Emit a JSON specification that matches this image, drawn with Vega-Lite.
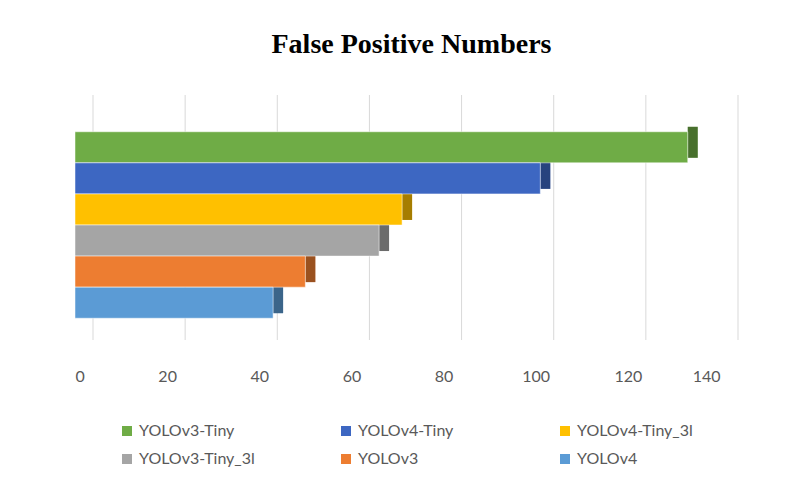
{
  "$schema": "https://vega.github.io/schema/vega-lite/v6.json",
  "width": 645,
  "height": 230,
  "autosize": {"type": "none"},
  "padding": {"left": 75, "top": 110, "right": 78, "bottom": 143},
  "background": "white",
  "title": {
    "text": "False Positive Numbers",
    "font": "Liberation Serif",
    "fontSize": 28,
    "fontWeight": "bold",
    "color": "#000000",
    "anchor": "middle",
    "dx": 14,
    "offset": 36
  },
  "datasets": {
    "bars": [
      {"model": "YOLOv3-Tiny", "fp": 133},
      {"model": "YOLOv4-Tiny", "fp": 101},
      {"model": "YOLOv4-Tiny_3l", "fp": 71},
      {"model": "YOLOv3-Tiny_3l", "fp": 66},
      {"model": "YOLOv3", "fp": 50},
      {"model": "YOLOv4", "fp": 43}
    ],
    "grid": [
      {"fp": 0}, {"fp": 20}, {"fp": 40}, {"fp": 60}, {"fp": 80}, {"fp": 100}, {"fp": 120}, {"fp": 140}
    ]
  },
  "layer": [
    {
      "data": {"name": "grid"},
      "mark": {"type": "rule", "color": "#d9d9d9", "strokeWidth": 1, "xOffset": 18, "yOffset": -15, "y2Offset": -10},
      "encoding": {
        "x": {
          "field": "fp",
          "type": "quantitative",
          "scale": {"domain": [0, 140], "nice": false},
          "axis": {
            "title": null,
            "values": [0, 20, 40, 60, 80, 100, 120, 140],
            "domain": false,
            "ticks": false,
            "grid": false,
            "labelFont": "Lato",
            "labelFontSize": 16,
            "labelColor": "#595959",
            "labelPadding": 28,
            "labelDx": -7
          }
        }
      }
    },
    {
      "data": {"name": "bars"},
      "mark": {"type": "tick", "orient": "vertical", "thickness": 10, "size": 31, "xOffset": 5, "yOffset": -5, "opacity": 1},
      "encoding": {
        "y": {
          "field": "model",
          "type": "nominal",
          "sort": ["YOLOv3-Tiny", "YOLOv4-Tiny", "YOLOv4-Tiny_3l", "YOLOv3-Tiny_3l", "YOLOv3", "YOLOv4"],
          "scale": {"paddingInner": 0, "paddingOuter": 0.7},
          "axis": null
        },
        "x": {"field": "fp", "type": "quantitative"},
        "color": {"field": "model", "type": "nominal"}
      }
    },
    {
      "data": {"name": "bars"},
      "mark": {"type": "tick", "orient": "vertical", "thickness": 10, "size": 31, "xOffset": 5, "yOffset": -5, "color": "black", "opacity": 0.35},
      "encoding": {
        "y": {"field": "model", "type": "nominal", "sort": ["YOLOv3-Tiny", "YOLOv4-Tiny", "YOLOv4-Tiny_3l", "YOLOv3-Tiny_3l", "YOLOv3", "YOLOv4"]},
        "x": {"field": "fp", "type": "quantitative"}
      }
    },
    {
      "data": {"name": "bars"},
      "mark": {"type": "bar", "stroke": "white", "strokeWidth": 0.5, "opacity": 1},
      "encoding": {
        "y": {"field": "model", "type": "nominal", "sort": ["YOLOv3-Tiny", "YOLOv4-Tiny", "YOLOv4-Tiny_3l", "YOLOv3-Tiny_3l", "YOLOv3", "YOLOv4"]},
        "x": {"field": "fp", "type": "quantitative"},
        "color": {
          "field": "model",
          "type": "nominal",
          "scale": {
            "domain": ["YOLOv3-Tiny", "YOLOv4-Tiny", "YOLOv4-Tiny_3l", "YOLOv3-Tiny_3l", "YOLOv3", "YOLOv4"],
            "range": ["#6fac46", "#3d67c2", "#ffc000", "#a5a5a5", "#ed7d31", "#5b9bd5"]
          },
          "legend": {
            "title": null,
            "orient": "none",
            "legendX": 44,
            "legendY": 313,
            "direction": "horizontal",
            "columns": 3,
            "gridAlign": "all",
            "columnPadding": 83,
            "rowPadding": 12,
            "symbolType": "square",
            "symbolSize": 100,
            "symbolStrokeWidth": 0,
            "symbolOffset": 0,
            "symbolOpacity": 1,
            "labelFont": "Lato",
            "labelFontSize": 16,
            "labelColor": "#595959",
            "labelOffset": 4,
            "labelLimit": 200
          }
        }
      }
    }
  ],
  "config": {"view": {"stroke": null}}
}
